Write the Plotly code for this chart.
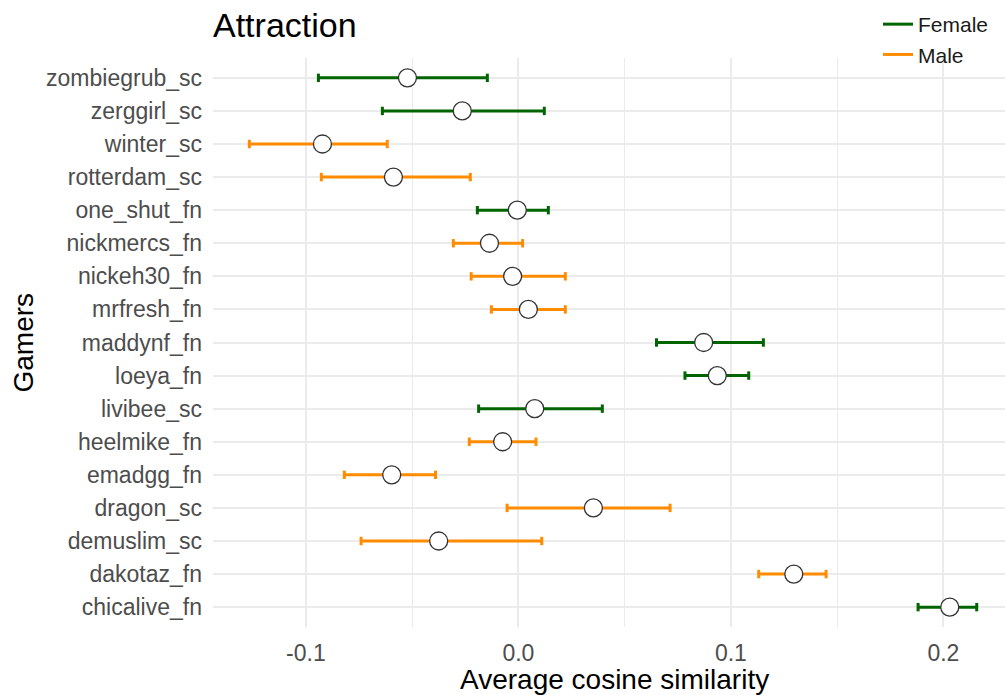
import plotly.graph_objects as go

# Gamers, top to bottom as listed on the axis
gamers = ["zombiegrub_sc", "zerggirl_sc", "winter_sc", "rotterdam_sc", "one_shut_fn",
          "nickmercs_fn", "nickeh30_fn", "mrfresh_fn", "maddynf_fn", "loeya_fn",
          "livibee_sc", "heelmike_fn", "emadgg_fn", "dragon_sc", "demuslim_sc",
          "dakotaz_fn", "chicalive_fn"]
gender = ["Female", "Female", "Male", "Male", "Female",
          "Male", "Male", "Male", "Female", "Female",
          "Female", "Male", "Male", "Male", "Male",
          "Male", "Female"]
mean_sim = [-0.0522, -0.0264, -0.0922, -0.0588, -0.0005,
            -0.0136, -0.0027, 0.0047, 0.0872, 0.0936,
            0.0077, -0.0074, -0.0596, 0.0353, -0.0375,
            0.1296, 0.2030]
lower_ci = [-0.0941, -0.0640, -0.1266, -0.0927, -0.0193,
            -0.0306, -0.0222, -0.0127, 0.0650, 0.0784,
            -0.0187, -0.0231, -0.0819, -0.0053, -0.0740,
            0.1131, 0.1881]
upper_ci = [-0.0146, 0.0122, -0.0617, -0.0226, 0.0141,
            0.0020, 0.0221, 0.0221, 0.1153, 0.1084,
            0.0395, 0.0083, -0.0390, 0.0714, 0.0110,
            0.1448, 0.2157]

colors = {"Female": "#006400", "Male": "#FF8C00"}

W, H = 1005, 695
L, R, T, B = 213, 0, 58, 68

fig = go.Figure()

for g in ["Female", "Male"]:
    idx = [i for i, s in enumerate(gender) if s == g]
    xs, ys = [], []
    for i in idx:
        xs += [lower_ci[i], upper_ci[i], None]
        ys += [gamers[i], gamers[i], None]
    # interval segments
    fig.add_trace(go.Scatter(
        x=xs, y=ys, mode="lines", name=g,
        line=dict(color=colors[g], width=3),
        hoverinfo="skip", legendgroup=g,
    ))
    # small end caps
    fig.add_trace(go.Scatter(
        x=[lower_ci[i] for i in idx] + [upper_ci[i] for i in idx],
        y=[gamers[i] for i in idx] * 2,
        mode="markers", showlegend=False, legendgroup=g,
        marker=dict(symbol="line-ns", size=6,
                    line=dict(color=colors[g], width=3)),
        hoverinfo="skip",
    ))

# mean points
fig.add_trace(go.Scatter(
    x=mean_sim, y=gamers, mode="markers", showlegend=False,
    marker=dict(symbol="circle", size=18, color="white",
                line=dict(color="#333333", width=1.3)),
))

fig.update_layout(
    width=W, height=H,
    margin=dict(l=L, r=R, t=T, b=B, autoexpand=False),
    paper_bgcolor="white", plot_bgcolor="white",
    font=dict(family="Liberation Sans, Arial, sans-serif", color="#000000"),
    title=dict(text="Attraction", font=dict(size=34, color="#000000"),
               x=L / W, xanchor="left", xref="container",
               y=1 - 25 / H, yanchor="middle", yref="container"),
    legend=dict(x=878 / W, xref="container", xanchor="left",
                y=1 - 4 / H, yref="container", yanchor="top",
                font=dict(size=21, color="#1a1a1a"),
                bgcolor="rgba(0,0,0,0)", tracegroupgap=0),
    showlegend=True,
)

fig.update_xaxes(
    range=[-0.1437, 0.229],
    tickvals=[-0.1, 0.0, 0.1, 0.2], ticktext=["-0.1", "0.0", "0.1", "0.2"],
    showgrid=True, gridcolor="#ebebeb", gridwidth=2,
    minor=dict(tickvals=[-0.05, 0.05, 0.15], showgrid=True,
               gridcolor="#ebebeb", gridwidth=1.2),
    zeroline=False, showline=False, ticks="",
    tickfont=dict(size=23, color="#4d4d4d"),
    ticklabelstandoff=10,
)
fig.update_yaxes(
    categoryorder="array", categoryarray=gamers[::-1],
    range=[-0.6, len(gamers) - 0.4],
    showgrid=True, gridcolor="#ebebeb", gridwidth=2,
    zeroline=False, showline=False, ticks="",
    tickfont=dict(size=23, color="#4d4d4d"),
    ticklabelstandoff=10,
)

plot_w = W - L - R
plot_h = H - T - B
fig.add_annotation(text="Average cosine similarity", showarrow=False,
                   xref="paper", yref="paper",
                   x=(614 - L) / plot_w, y=(H - B - 679) / plot_h,
                   xanchor="center", yanchor="middle",
                   font=dict(size=28, color="#000000"))
fig.add_annotation(text="Gamers", showarrow=False, textangle=-90,
                   xref="paper", yref="paper",
                   x=(23 - L) / plot_w, y=0.5,
                   xanchor="center", yanchor="middle",
                   font=dict(size=28, color="#000000"))

fig.write_html("out.html")
